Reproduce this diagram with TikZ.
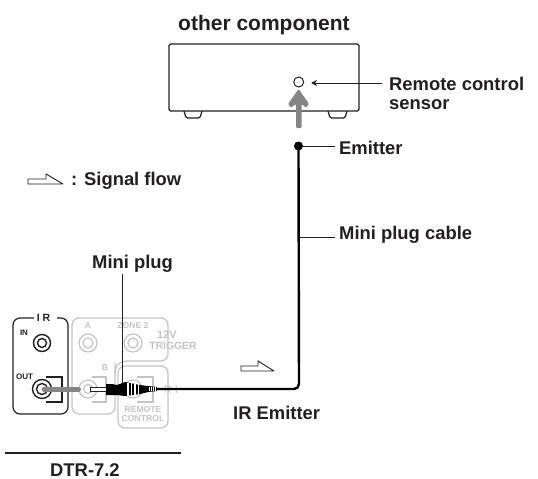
\documentclass[tikz,border=0pt]{standalone}
\usepackage{fontspec}
\setmainfont{Liberation Sans}
\usetikzlibrary{arrows.meta}
\definecolor{ink}{HTML}{231F20}
\definecolor{faint}{HTML}{C4C4C4}
\definecolor{midg}{HTML}{858585}
\tikzset{
  lab/.style={font=\bfseries\fontsize{18.4}{19}\selectfont,text=ink,inner sep=0pt,anchor=base west},
  tiny/.style={font=\bfseries\fontsize{8}{9}\selectfont,text=ink,inner sep=0pt},
  ghost/.style={font=\bfseries\fontsize{8.6}{9}\selectfont,text=faint,inner sep=0pt,align=center},
  pin/.style={draw=ink,line width=1pt},
  ptr/.style={pin,-{Stealth[length=6pt,width=6pt]}},
  box/.style={draw=ink,line width=1.2pt,rounded corners=1.5pt},
  outl/.style={draw=ink,line width=1.2pt},
  fline/.style={draw=faint,line width=1.2pt,rounded corners=7pt},
  flow/.style={draw=ink,line width=.9pt,fill=white,miter limit=3},
  jackk/.style={circle,draw=ink,line width=1.4pt,minimum size=#1,inner sep=0pt},
  jackf/.style={circle,draw=faint,line width=1.2pt,minimum size=#1,inner sep=0pt},
}
\begin{document}
\begin{tikzpicture}[x=1pt,y=-1pt]
\useasboundingbox (0,0) rectangle (538,479);
% other component
\node[lab,font=\bfseries\fontsize{21}{22}\selectfont] (title) at (178,30) {other component};
\draw[box] (184,111) -- (186,118) -- (200,118) -- (202,111);
\draw[box] (328,111) -- (330,118) -- (345,118) -- (347,111);
\node[draw=ink,line width=1.2pt,rounded corners=1.5pt,fill=white,minimum width=190pt,minimum height=67pt,inner sep=0pt] (comp) at (264,77.5) {};
\node[circle,draw=ink,line width=1pt,minimum size=10pt,inner sep=0pt] (sensor) at (298.7,82) {};
\node[lab] (rem) at (389,90) {Remote control};
\node[lab] (sen) at (389,109) {sensor};
\coordinate (remfoot) at (382,83);
\coordinate (remtip) at (311,83);
\draw[ptr] (remfoot) -- (remtip);
% grey arrow
\fill[midg,rounded corners=1pt] (296,128) -- (296,104) -- (291,107.5) -- (288,104) -- (298.7,89) -- (309,104) -- (306,107.5) -- (301.5,104) -- (301.5,128) -- cycle;
% emitter
\node[circle,fill=black,minimum size=9pt,inner sep=0pt] (emit) at (298.5,146) {};
\node[lab] (emlab) at (339,154) {Emitter};
\coordinate (emfoot) at (335,146);
\draw[pin] (emit) -- (emfoot);
% signal flow key
\draw[flow] (28,184) -- (28,179) -- (46,179) -- (46,174) -- (63,184) -- cycle;
\node[lab] (sf) at (71,185) {: Signal flow};
% rear panel, grey parts
\draw[fline] (115,363) -- (115,414) -- (72,414) -- (72,318) -- (168,318) -- (168,361) -- (126,361);
\draw[fline] (126,361) .. controls (118,362) and (115,366) .. (115,375);
\draw[fline] (118,384) -- (118,366) -- (168,366) -- (168,428) -- (118,428) -- (118,384);
\node[jackf=18pt] (ja) at (88,343) {};
\node[jackf=10pt] at (88,343) {};
\node[jackf=18pt] (jz) at (133,343) {};
\node[jackf=10pt] at (133,343) {};
\draw[draw=faint,line width=1.2pt] (92,377) -- (106,377) -- (106,402) -- (92,402);
\draw[draw=faint,line width=1.2pt] (137,377) -- (153,377) -- (153,402) -- (137,402);
\node[jackf=18pt,fill=white] (jb) at (88,389) {};
\node[jackf=9pt] at (88,389) {};
\node[jackf=18pt,fill=white] (jr) at (133,389) {};
\node[ghost] at (88,326) {A};
\node[ghost] at (105,368) {B};
\node[ghost] at (133,326) {ZONE 2};
\node[ghost,font=\bfseries\fontsize{11}{11.5}\selectfont] at (167,335) {12V};
\node[ghost,font=\bfseries\fontsize{10.4}{11.5}\selectfont] at (173,346) {TRIGGER};
\node[ghost,font=\bfseries\fontsize{8.6}{8.6}\selectfont] at (143,414) {REMOTE\\CONTROL};
\node[ghost,font=\fontsize{11}{12}\selectfont] at (171,390) {R I};
% rear panel, IR box
\draw[box,rounded corners=7pt] (34,318) -- (13,318) -- (13,414) -- (68,414) -- (68,318) -- (57,318);
\node[tiny,font=\bfseries\fontsize{10.5}{11}\selectfont] (ir) at (43.5,318) {I R};
\node[tiny] (inl) at (24,333) {IN};
\node[tiny] (outl) at (24.5,377) {OUT};
\node[jackk=17pt] (jin) at (42,343) {};
\node[jackk=9pt] at (42,343) {};
\draw[outl] (46,377) -- (62,377) -- (62,402) -- (46,402);
\node[jackk=19pt,fill=white] (jout) at (42,389) {};
\node[jackk=11pt] at (42,389) {};
% signal jumper
\draw[midg,line width=5pt,line cap=round] (jout.center) ++(2,0) -- (jb.west);
\draw[pin,fill=white,line width=.8pt] (90,387.2) -- (107,387.2) -- (107,391) -- (90,391) -- cycle;
% cable
\node[lab] (irem) at (233,419) {IR Emitter};
\draw[black,line width=2.4pt,rounded corners=5pt] (emit.center) -- (299,389) -- (155,389);
\node[lab] (mpc) at (339,239) {Mini plug cable};
\coordinate (mpcfoot) at (335,237);
\coordinate (mpcroot) at (299,237);
\draw[pin] (mpcroot) -- (mpcfoot);
% plug
\fill[black] (106,384) -- (112,384) -- (117,385) -- (125,382) -- (140,385) -- (148,386) -- (157,387) -- (157,391) -- (148,392) -- (140,394) -- (125,396) -- (117,395) -- (106,395) -- cycle;
\foreach \xx/\hh in {128/6.5,131.5/6,135/5.5,138.5/5}{
  \draw[white,line width=1.5pt] (\xx,389-\hh) -- (\xx,389+\hh);}
\foreach \xx in {149.5,151.5,153.5,155.5}{
  \draw[white,line width=.7pt] (\xx,387) -- (\xx,391);}
% mini plug pointer
\node[lab] (mp) at (92,268) {Mini plug};
\coordinate (mpfoot) at (122,274);
\coordinate (mptip) at (122,384);
\draw[pin] (mpfoot) -- (mptip);
% bottom
\coordinate (ruleL) at (5,453);
\coordinate (ruleR) at (181,453);
\draw[ink,line width=2.4pt] (ruleL) -- (ruleR);
\node[lab] (dtr) at (50,476) {DTR-7.2};
% signal flow near cable
\draw[flow] (241,371) -- (241,366) -- (258,366) -- (258,361) -- (274,371) -- cycle;
\end{tikzpicture}
\end{document}
